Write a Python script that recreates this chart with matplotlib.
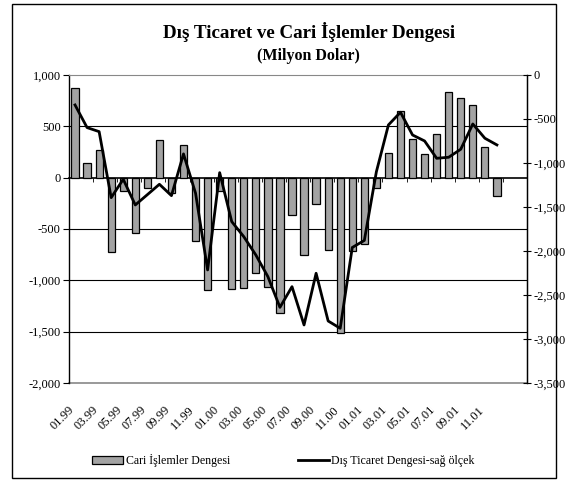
import numpy as np
import matplotlib.pyplot as plt
from matplotlib.patches import Rectangle
from matplotlib.ticker import FuncFormatter
from matplotlib.transforms import ScaledTranslation

plt.rcParams['font.family'] = ['Liberation Serif', 'DejaVu Serif']

# monthly, 01.99 .. 12.01
months = [f"{m:02d}.{y:02d}" for y in (99, 0, 1) for m in range(1, 13)]

# current account balance (left scale, million USD)
cari = [875, 143, 267, -725, -134, -539, -105, 363, -150, 314, -617, -1095,
        -131, -1085, -1072, -925, -1062, -1313, -366, -758, -255, -706, -1510, -719,
        -647, -105, 238, 653, 372, 231, 428, 829, 777, 712, 300, -183]

# foreign trade balance (right scale, million USD)
dis_ticaret = [-341, -598, -644, -1394, -1185, -1477, -1360, -1242, -1371, -897, -1344, -2215,
               -1110, -1666, -1837, -2045, -2291, -2640, -2405, -2840, -2253, -2795, -2878, -1960,
               -1880, -1100, -568, -424, -682, -750, -947, -935, -844, -557, -719, -795]

x = np.arange(len(months))
thousands = FuncFormatter(lambda v, p: f"{v:,.0f}")

fig = plt.figure(figsize=(5.74, 4.93), dpi=100)
ax = fig.add_axes([0.1202, 0.223, 0.798, 0.625])

bars = ax.bar(x, cari, width=0.6, color='#a3a3a3', edgecolor='black', linewidth=0.9,
              label='Cari İşlemler Dengesi', zorder=3)

ax.set_xlim(-0.5, len(months) - 0.5)
ax.set_ylim(-2000, 1000)
ax.set_yticks(np.arange(-2000, 1001, 500))
ax.yaxis.set_major_formatter(thousands)
ax.tick_params(axis='y', direction='out', length=4, labelsize=9, pad=2)
for v in (500, -500, -1000, -1500):
    ax.axhline(v, color='black', lw=0.8, zorder=1)

# category axis crosses at zero, labels stay at the bottom
ax.spines['bottom'].set_position(('data', 0))
ax.spines['bottom'].set_linewidth(1.2)
ax.spines['top'].set_color('#888888')
ax.spines['left'].set_linewidth(1.0)
ax.set_xticks(np.arange(-0.5, len(months), 2) + 2)
ax.set_xticklabels([])
ax.tick_params(axis='x', direction='out', length=3, width=0.6)

sec = ax.secondary_xaxis(0.0)
sec.set_xticks(x[::2])
sec.set_xticklabels(months[::2], rotation=45, ha='right', rotation_mode='anchor', fontsize=9)
sec.tick_params(length=0, pad=15)
sec.spines['bottom'].set_color('#888888')
sec.spines['bottom'].set_linewidth(1.2)
shift = ScaledTranslation(-5 / 72, 0, fig.dpi_scale_trans)
for lab in sec.get_xticklabels():
    lab.set_transform(lab.get_transform() + shift)

ax2 = ax.twinx()
line, = ax2.plot(x, dis_ticaret, color='black', lw=2.0, label='Dış Ticaret Dengesi-sağ ölçek', zorder=4)
ax2.set_ylim(-3500, 0)
ax2.set_yticks(np.arange(-3500, 1, 500))
ax2.yaxis.set_major_formatter(thousands)
ax2.tick_params(axis='y', direction='inout', length=6, labelsize=9, pad=2)
ax2.spines['right'].set_linewidth(1.0)
for s in ('top', 'bottom', 'left'):
    ax2.spines[s].set_visible(False)

fig.text(0.538, 0.935, 'Dış Ticaret ve Cari İşlemler Dengesi', ha='center', va='center',
         fontsize=13.7, fontweight='bold')
fig.text(0.538, 0.886, '(Milyon Dolar)', ha='center', va='center', fontsize=11.5, fontweight='bold')

fig.legend([bars, line], ['Cari İşlemler Dengesi', 'Dış Ticaret Dengesi-sağ ölçek'],
           loc='center', bbox_to_anchor=(0.494, 0.066), ncol=2, frameon=False, fontsize=8.6,
           handlelength=2.6, columnspacing=5.7, handletextpad=0.2)

fig.patches.append(Rectangle((0.021, 0.030), 0.948, 0.962, transform=fig.transFigure,
                             fill=False, edgecolor='black', lw=1.0))

fig.savefig('out.png', dpi=100)
